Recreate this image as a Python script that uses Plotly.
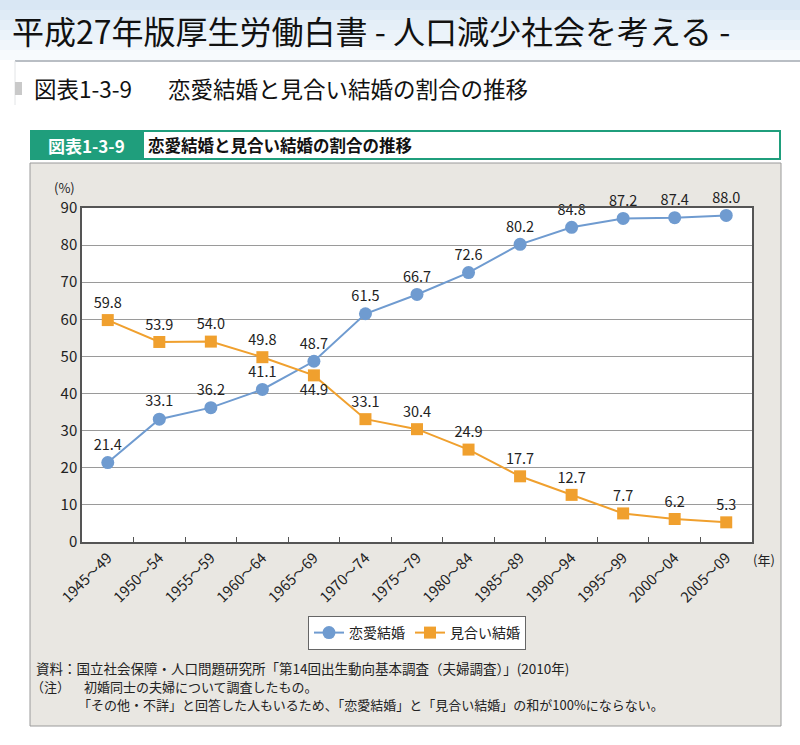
import plotly.graph_objects as go

periods = ["1945〜49", "1950〜54", "1955〜59", "1960〜64", "1965〜69", "1970〜74",
           "1975〜79", "1980〜84", "1985〜89", "1990〜94", "1995〜99", "2000〜04", "2005〜09"]
love_marriage = [21.4, 33.1, 36.2, 41.1, 48.7, 61.5, 66.7, 72.6, 80.2, 84.8, 87.2, 87.4, 88.0]
arranged_marriage = [59.8, 53.9, 54.0, 49.8, 44.9, 33.1, 30.4, 24.9, 17.7, 12.7, 7.7, 6.2, 5.3]
arranged_text_pos = ["top center"] * 4 + ["bottom center"] + ["top center"] * 8

W, H = 800, 745
L, R, T, B = 82, 752, 208, 542
FONT = "Noto Sans CJK JP"
BLUE = "#6f9bd0"
ORANGE = "#f0a02e"
GREEN = "#1f9e7c"


def px(x):
    return (x - L) / (R - L)


def py(y):
    return (B - y) / (B - T)


fig = go.Figure()
fig.add_trace(go.Scatter(
    x=periods, y=love_marriage, name="恋愛結婚", mode="lines+markers+text",
    line=dict(color=BLUE, width=2), marker=dict(symbol="circle", size=13, color=BLUE),
    text=[f"{v:.1f}" for v in love_marriage], textposition="top center",
    textfont=dict(size=14.5, color="#222", family=FONT), cliponaxis=False))
fig.add_trace(go.Scatter(
    x=periods, y=arranged_marriage, name="見合い結婚", mode="lines+markers+text",
    line=dict(color=ORANGE, width=2), marker=dict(symbol="square", size=12, color=ORANGE),
    text=[f"{v:.1f}" for v in arranged_marriage], textposition=arranged_text_pos,
    textfont=dict(size=14.5, color="#222", family=FONT), cliponaxis=False))

shapes = []
# top sky background (gradient approximation)
sky = ["#d9e7f4", "#dfebf6", "#e5eff8", "#ebf3fa", "#f1f6fb", "#f7fafd"]
for i, c in enumerate(sky):
    shapes.append(dict(type="rect", xref="paper", yref="paper", layer="below",
                       x0=px(0), x1=px(800), y0=py(i * 10), y1=py(i * 10 + 10),
                       fillcolor=c, line=dict(width=0)))
# subheading separator
shapes.append(dict(type="line", xref="paper", yref="paper", x0=px(15), x1=px(800),
                   y0=py(61), y1=py(61), line=dict(color="#b9bec4", width=2)))
shapes.append(dict(type="line", xref="paper", yref="paper", x0=px(15), x1=px(15),
                   y0=py(61), y1=py(105), line=dict(color="#e2e4e6", width=1)))
shapes.append(dict(type="rect", xref="paper", yref="paper", x0=px(15), x1=px(22),
                   y0=py(82), y1=py(95), fillcolor="#c9c9c9", line=dict(width=0)))
# chart header
shapes.append(dict(type="rect", xref="paper", yref="paper", x0=px(143), x1=px(780),
                   y0=py(131), y1=py(159), fillcolor="white",
                   line=dict(color=GREEN, width=2)))
shapes.append(dict(type="rect", xref="paper", yref="paper", x0=px(30), x1=px(143),
                   y0=py(130), y1=py(160), fillcolor=GREEN, line=dict(width=0)))
# grey chart box
shapes.append(dict(type="rect", xref="paper", yref="paper", layer="below",
                   x0=px(30), x1=px(781), y0=py(163), y1=py(726),
                   fillcolor="#e9e7e2", line=dict(color="#9a9a9a", width=1)))
# white plot area
shapes.append(dict(type="rect", xref="paper", yref="paper", layer="below",
                   x0=0, x1=1, y0=0, y1=1, fillcolor="white", line=dict(width=0)))

annotations = [
    dict(text="平成27年版厚生労働白書 - 人口減少社会を考える -", x=px(10), y=py(30),
         xanchor="left", yanchor="middle", font=dict(size=32, color="#111", family=FONT)),
    dict(text="図表1-3-9", x=px(32), y=py(88), xanchor="left", yanchor="middle",
         font=dict(size=22.5, color="#111", family=FONT)),
    dict(text="恋愛結婚と見合い結婚の割合の推移", x=px(166), y=py(88), xanchor="left",
         yanchor="middle", font=dict(size=22.5, color="#111", family=FONT)),
    dict(text="<b>図表1-3-9</b>", x=px(86), y=py(145), xanchor="center", yanchor="middle",
         font=dict(size=17, color="white", family=FONT)),
    dict(text="<b>恋愛結婚と見合い結婚の割合の推移</b>", x=px(146), y=py(145), xanchor="left",
         yanchor="middle", font=dict(size=16.5, color="#111", family=FONT)),
    dict(text="(%)", x=px(64), y=py(187), xanchor="center", yanchor="middle",
         font=dict(size=13, color="#222", family=FONT)),
    dict(text="(年)", x=px(764), y=py(559), xanchor="center", yanchor="middle",
         font=dict(size=13, color="#222", family=FONT)),
    dict(text="資料：国立社会保障・人口問題研究所「第14回出生動向基本調査（夫婦調査）」(2010年)",
         x=px(34), y=py(668), xanchor="left", yanchor="middle",
         font=dict(size=13.5, color="#222", family=FONT)),
    dict(text="（注）", x=px(29), y=py(686), xanchor="left", yanchor="middle",
         font=dict(size=13, color="#222", family=FONT)),
    dict(text="初婚同士の夫婦について調査したもの。", x=px(82), y=py(686), xanchor="left",
         yanchor="middle", font=dict(size=13, color="#222", family=FONT)),
    dict(text="「その他・不詳」と回答した人もいるため、「恋愛結婚」と「見合い結婚」の和が100%にならない。",
         x=px(76), y=py(704), xanchor="left", yanchor="middle",
         font=dict(size=13, color="#222", family=FONT)),
]
for a in annotations:
    a.update(xref="paper", yref="paper", showarrow=False)

fig.update_layout(
    width=W, height=H,
    margin=dict(l=L, r=W - R, t=T, b=H - B),
    paper_bgcolor="white", plot_bgcolor="rgba(0,0,0,0)",
    font=dict(family=FONT, color="#222"),
    showlegend=True,
    legend=dict(orientation="h", x=px(417), xanchor="center", y=py(616), yanchor="top",
                bgcolor="white", bordercolor="#666", borderwidth=1,
                font=dict(size=14, color="#222", family=FONT), itemwidth=30,
                tracegroupgap=0),
    shapes=shapes, annotations=annotations,
    xaxis=dict(type="category", range=[-0.5, 12.5], autorange=False, showgrid=False,
               showline=True, linecolor="#555", linewidth=1.5,
               mirror=True, ticks="inside", tickson="boundaries", ticklen=5, tickcolor="#555",
               tickangle=-45, tickfont=dict(size=14.5, color="#222", family=FONT)),
    yaxis=dict(range=[0, 90], dtick=10, showgrid=True, gridcolor="#9a9a9a", gridwidth=1,
               showline=True, linecolor="#555", linewidth=1.5, mirror=True, ticks="",
               zeroline=False, tickfont=dict(size=15, color="#222", family=FONT)),
)

fig.write_html("out.html", config={"displayModeBar": False},
               post_script="document.body.style.margin='0';document.body.style.padding='0';")
